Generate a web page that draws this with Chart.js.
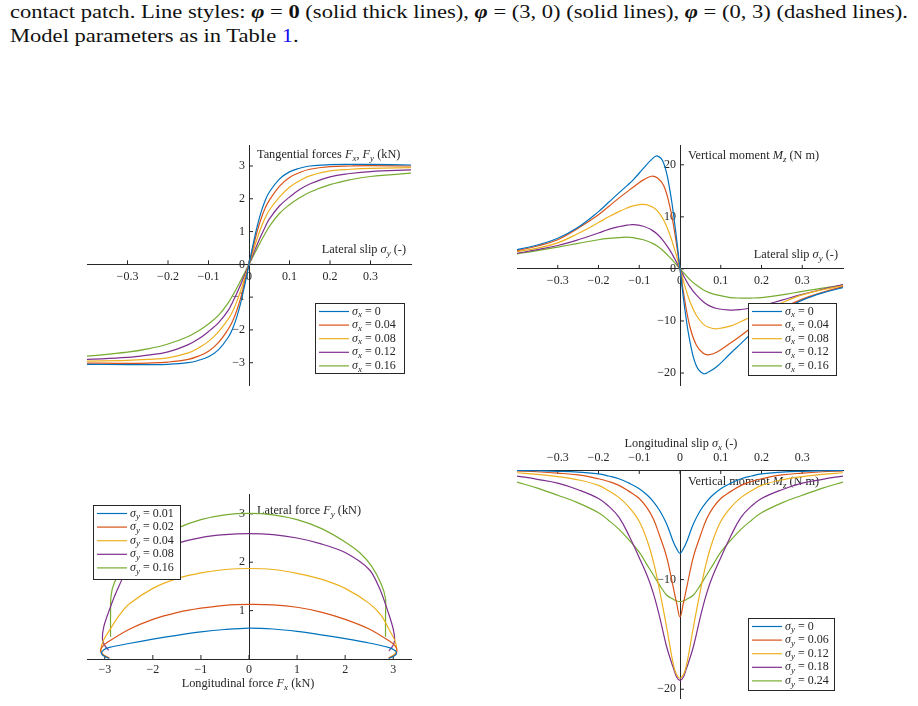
<!DOCTYPE html>
<html>
<head>
<meta charset="utf-8">
<script src="https://cdn.jsdelivr.net/npm/chart.js@4.4.1/dist/chart.umd.min.js"></script>
<style>
  html, body { margin: 0; padding: 0; background: #fff; }
  body { width: 918px; height: 706px; position: relative; overflow: hidden; }
  .cap { position: absolute; left: 10px; font-family: "Liberation Serif", serif; font-size: 18.5px; line-height: 18px;
         color: #111; white-space: nowrap; transform-origin: 0 0; }
  canvas { position: absolute; }
</style>
</head>
<body>
<div class="cap" id="cap1" style="top:3px">contact patch. Line styles: <b><i>φ</i></b> = <b>0</b> (solid thick lines), <b><i>φ</i></b> = (3, 0) (solid lines), <b><i>φ</i></b> = (0, 3) (dashed lines).</div>
<div class="cap" id="cap2" style="top:27px">Model parameters as in Table <span style="color:#1010f0">1</span>.</div>
<canvas id="forces"></canvas>
<canvas id="momentLat"></canvas>
<canvas id="ellipse"></canvas>
<canvas id="momentLon"></canvas>
<script>
// ---- data ----

// top left: tangential force vs lateral slip, one curve per sigma_x
const latSlip = [-0.4, -0.3, -0.25, -0.2, -0.15, -0.125, -0.1, -0.075, -0.05, -0.04, -0.03, -0.02, -0.01, 0,
                 0.01, 0.02, 0.03, 0.04, 0.05, 0.075, 0.1, 0.125, 0.15, 0.2, 0.25, 0.3, 0.4];
const fy_sx000 = [-3.05, -3.06, -3.06, -3.05, -3.0, -2.93, -2.82, -2.6, -2.2, -1.95, -1.6, -1.15, -0.6, 0,
                  0.6, 1.15, 1.6, 1.95, 2.2, 2.6, 2.82, 2.93, 3.0, 3.04, 3.05, 3.05, 3.03];
const fy_sx004 = [-3.01, -3.02, -3.01, -2.98, -2.9, -2.8, -2.65, -2.38, -1.95, -1.72, -1.4, -1.0, -0.5, 0,
                  0.5, 1.0, 1.4, 1.72, 1.95, 2.38, 2.65, 2.8, 2.9, 2.98, 3.0, 3.01, 3.0];
const fy_sx008 = [-2.95, -2.93, -2.9, -2.85, -2.7, -2.55, -2.35, -2.05, -1.65, -1.42, -1.13, -0.78, -0.4, 0,
                  0.4, 0.78, 1.13, 1.42, 1.65, 2.05, 2.35, 2.55, 2.7, 2.85, 2.9, 2.93, 2.95];
const fy_sx012 = [-2.9, -2.84, -2.77, -2.67, -2.45, -2.28, -2.05, -1.78, -1.38, -1.14, -0.88, -0.6, -0.3, 0,
                  0.3, 0.6, 0.88, 1.14, 1.38, 1.78, 2.05, 2.28, 2.45, 2.67, 2.77, 2.83, 2.88];
const fy_sx016 = [-2.8, -2.68, -2.58, -2.43, -2.2, -2.03, -1.82, -1.55, -1.15, -0.94, -0.72, -0.48, -0.24, 0,
                  0.24, 0.48, 0.72, 0.94, 1.15, 1.55, 1.82, 2.03, 2.2, 2.43, 2.58, 2.68, 2.78];
const sxLevels = ['0', '0.04', '0.08', '0.12', '0.16'];

// top right: vertical moment vs lateral slip
const latSlip2 = [-0.4, -0.35, -0.3, -0.25, -0.2, -0.175, -0.15, -0.13, -0.115, -0.09, -0.07, -0.056, -0.04, -0.025, -0.012, 0,
                  0.012, 0.025, 0.04, 0.057, 0.07, 0.09, 0.123, 0.15, 0.175, 0.2, 0.25, 0.3, 0.35, 0.4];
const mzLat_sx000 = [3.7, 4.6, 5.9, 8.0, 11.0, 12.8, 14.6, 16.0, 17.1, 19.3, 21.0, 21.7, 20.3, 15.2, 8.1, 0,
                     -7.8, -14.2, -18.6, -20.1, -19.8, -18.8, -16.3, -14.3, -12.4, -10.6, -8.0, -6.0, -4.6, -3.6];
const mzLat_sx004 = [3.5, 4.4, 5.6, 7.8, 10.4, 12.0, 13.6, 14.8, 15.7, 17.1, 17.8, 17.5, 16.0, 12.0, 6.5, 0,
                     -6.2, -11.3, -14.6, -16.2, -16.5, -16.0, -14.3, -12.8, -11.3, -9.9, -7.6, -5.8, -4.5, -3.4];
const mzLat_sx008 = [3.3, 4.0, 5.0, 6.8, 8.9, 10.0, 11.0, 11.7, 12.1, 12.4, 12.0, 11.2, 9.4, 6.6, 3.4, 0,
                     -3.3, -6.4, -8.9, -10.6, -11.2, -11.5, -11.0, -10.1, -9.2, -8.3, -6.5, -5.0, -4.0, -3.2];
const mzLat_sx012 = [3.0, 3.7, 4.5, 5.6, 6.9, 7.6, 8.1, 8.4, 8.5, 8.2, 7.5, 6.7, 5.3, 3.6, 1.8, 0,
                     -1.8, -3.5, -5.0, -6.3, -7.0, -7.6, -7.9, -7.8, -7.5, -7.1, -6.0, -4.9, -3.9, -3.0];
const mzLat_sx016 = [2.9, 3.5, 4.2, 4.9, 5.6, 5.85, 6.0, 6.1, 6.0, 5.6, 5.0, 4.4, 3.4, 2.2, 1.1, 0,
                     -1.0, -2.1, -3.1, -4.0, -4.5, -5.0, -5.5, -5.6, -5.6, -5.5, -5.0, -4.3, -3.7, -3.1];

// bottom left: force locus Fy vs Fx, one arc per sigma_y
const fx_sy001 = [-2.91, -3.02, -3.07, -3.02, -2.9, -2.5, -2, -1.5, -1, -0.5, 0, 0.5, 1, 1.5, 2, 2.5, 2.9, 3.03, 3.07, 3.02, 2.91];
const fy_sy001 = [0.01, 0.06, 0.12, 0.19, 0.24, 0.32, 0.41, 0.49, 0.56, 0.61, 0.64, 0.62, 0.57, 0.5, 0.42, 0.33, 0.24, 0.18, 0.12, 0.06, 0.01];
const fx_sy002 = [-2.9, -3.03, -3.09, -3.04, -2.92, -2.5, -2, -1.5, -1, -0.5, 0, 0.5, 1, 1.5, 2, 2.5, 2.92, 3.04, 3.08, 3.03, 2.9];
const fy_sy002 = [0.02, 0.08, 0.17, 0.27, 0.36, 0.61, 0.82, 0.96, 1.05, 1.11, 1.13, 1.12, 1.07, 0.97, 0.82, 0.62, 0.37, 0.27, 0.17, 0.08, 0.02];
const fx_sy004 = [-2.93, -3.04, -3.08, -3.03, -2.91, -2.7, -2.5, -2, -1.5, -1, -0.5, 0, 0.5, 1, 1.5, 2, 2.5, 2.75, 2.93, 3.04, 3.07, 3.03, 2.92];
const fy_sy004 = [0.03, 0.1, 0.2, 0.38, 0.58, 0.9, 1.13, 1.46, 1.66, 1.78, 1.85, 1.87, 1.85, 1.77, 1.65, 1.46, 1.15, 0.9, 0.58, 0.37, 0.2, 0.1, 0.03];
const fx_sy008 = [-2.92, -3.0, -3.05, -3.02, -2.91, -2.74, -2.53, -2, -1.5, -1, -0.5, 0, 0.5, 1, 1.5, 2, 2.5, 2.72, 2.9, 3.0, 3.03, 2.99, 2.91];
const fy_sy008 = [0.18, 0.28, 0.42, 0.67, 1.0, 1.43, 1.82, 2.2, 2.39, 2.51, 2.57, 2.59, 2.57, 2.5, 2.38, 2.2, 1.85, 1.45, 0.95, 0.62, 0.4, 0.27, 0.17];
const fx_sy016 = [-2.88, -2.88, -2.87, -2.8, -2.6, -2.3, -2, -1.5, -1, -0.5, 0, 0.5, 1, 1.5, 2, 2.3, 2.55, 2.75, 2.84, 2.84, 2.84];
const fy_sy016 = [0.46, 0.9, 1.3, 1.58, 1.92, 2.22, 2.42, 2.7, 2.88, 2.98, 3.01, 2.98, 2.88, 2.7, 2.42, 2.2, 1.92, 1.55, 1.25, 0.9, 0.46];
const syLocusLevels = ['0.01', '0.02', '0.04', '0.08', '0.16'];

// bottom right: vertical moment vs longitudinal slip
const lonSlip = [-0.4, -0.35, -0.3, -0.25, -0.2, -0.175, -0.15, -0.125, -0.1, -0.08, -0.065, -0.05, -0.033, -0.016, -0.008, 0,
                 0.008, 0.016, 0.033, 0.05, 0.065, 0.08, 0.1, 0.125, 0.15, 0.175, 0.2, 0.25, 0.3, 0.35, 0.4];
const mzLon_sy000 = [-0.03, -0.07, -0.12, -0.2, -0.35, -0.55, -0.8, -1.2, -1.7, -2.3, -2.9, -3.7, -4.9, -6.6, -7.2, -7.6,
                     -7.2, -6.6, -4.9, -3.7, -2.9, -2.3, -1.7, -1.2, -0.8, -0.55, -0.35, -0.2, -0.12, -0.07, -0.03];
const mzLon_sy006 = [-0.08, -0.16, -0.28, -0.45, -0.8, -1.05, -1.4, -1.95, -2.6, -3.5, -4.5, -6.0, -7.9, -10.8, -12.2, -13.4,
                     -12.2, -10.8, -7.9, -6.0, -4.5, -3.5, -2.6, -1.95, -1.4, -1.05, -0.8, -0.45, -0.28, -0.16, -0.08];
const mzLon_sy012 = [-0.25, -0.4, -0.6, -0.9, -1.4, -1.9, -2.5, -3.4, -4.7, -6.5, -8.4, -11.0, -14.3, -17.8, -18.7, -19.0,
                     -18.7, -17.8, -14.3, -11.0, -8.4, -6.5, -4.7, -3.4, -2.5, -1.9, -1.4, -0.9, -0.6, -0.4, -0.25];
const mzLon_sy018 = [-0.55, -0.85, -1.2, -1.8, -2.6, -3.3, -4.3, -6.0, -8.0, -9.7, -11.3, -13.4, -16.1, -18.1, -18.9, -19.2,
                     -18.9, -18.1, -16.1, -13.4, -11.3, -9.7, -8.0, -6.0, -4.3, -3.3, -2.6, -1.8, -1.2, -0.85, -0.55];
const mzLon_sy024 = [-1.1, -1.65, -2.3, -3.0, -3.9, -4.6, -5.4, -6.4, -7.5, -8.7, -9.6, -10.5, -11.4, -11.8, -11.95, -12.0,
                     -11.95, -11.8, -11.4, -10.5, -9.6, -8.7, -7.5, -6.4, -5.4, -4.6, -3.9, -3.0, -2.3, -1.65, -1.1];
const syLevels = ['0', '0.06', '0.12', '0.18', '0.24'];

// tick labels
const slipTicks = [-0.3, -0.2, -0.1, 0, 0.1, 0.2, 0.3];
const forceTicks = [-3, -2, -1, 0, 1, 2, 3];
const momentTicks = [-20, -10, 0, 10, 20];
const locusXTicks = [-3, -2, -1, 0, 1, 2, 3];
const locusYTicks = [1, 2, 3];
const momentLonTicks = [-20, -10];

// ---- drawing helpers ----
const COLORS = ['#0072BD', '#D95319', '#EDB120', '#7E2F8E', '#77AC30'];
const INK = '#262626';
const SERIF = '"Liberation Serif", "DejaVu Serif", serif';
const decoById = {};

function fontFor(kind, size) {
    if (kind === 'i') return 'italic ' + size + 'px ' + SERIF;
    if (kind === 's') return 'italic ' + Math.round(size * 0.72) + 'px ' + SERIF;
    return size + 'px ' + SERIF;
}

// parts: [text, kind]; kind n = roman, i = italic, s = italic subscript
function drawRich(ctx, parts, x, y, size, align) {
    let w = 0;
    parts.forEach(p => { ctx.font = fontFor(p[1], size); w += ctx.measureText(p[0]).width; });
    let cx = align === 'center' ? x - w / 2 : align === 'right' ? x - w : x;
    ctx.textAlign = 'left';
    ctx.textBaseline = 'middle';
    parts.forEach(p => {
        ctx.font = fontFor(p[1], size);
        ctx.fillText(p[0], cx, y + (p[1] === 's' ? size * 0.28 : 0));
        cx += ctx.measureText(p[0]).width;
    });
}

function fmt(v) {
    return (v < 0 ? '\u2212' : '') + String(Math.abs(v));
}

const decoPlugin = {
    id: 'deco',
    beforeDraw(chart) {
        const d = decoById[chart.canvas.id];
        if (!d) return;
        const ctx = chart.ctx;
        const xs = chart.scales.x, ys = chart.scales.y;
        const x0 = xs.getPixelForValue(0), y0 = ys.getPixelForValue(0);
        ctx.save();
        ctx.fillStyle = INK;
        ctx.strokeStyle = INK;
        ctx.lineWidth = 1;
        ctx.font = '12px ' + SERIF;
        ctx.textBaseline = 'middle';
        xs.ticks.forEach(t => {
            const px = xs.getPixelForValue(t.value);
            ctx.textAlign = 'center';
            ctx.fillText(fmt(t.value), px, y0 + d.xLabelDy);
            ctx.beginPath(); ctx.moveTo(px, y0); ctx.lineTo(px, y0 + d.xTickLen); ctx.stroke();
        });
        ys.ticks.forEach(t => {
            const py = ys.getPixelForValue(t.value);
            ctx.textAlign = 'right';
            ctx.fillText(fmt(t.value), x0 - 4, py);
            ctx.beginPath(); ctx.moveTo(x0, py); ctx.lineTo(x0 + 4, py); ctx.stroke();
        });
        d.titles.forEach(tt => {
            drawRich(ctx, tt.parts, tt.x - d.frame.x, tt.y - d.frame.y, 12.3, tt.align);
        });
        ctx.restore();
    },
    afterDatasetsDraw(chart) {
        const d = decoById[chart.canvas.id];
        if (!d) return;
        const lg = d.legend, ctx = chart.ctx;
        const x = lg.x - d.frame.x, y = lg.y - d.frame.y;
        ctx.save();
        ctx.fillStyle = '#fff';
        ctx.fillRect(x, y, lg.w, lg.h);
        ctx.strokeStyle = INK;
        ctx.lineWidth = 1;
        ctx.strokeRect(x + 0.5, y + 0.5, lg.w, lg.h);
        chart.data.datasets.forEach((ds, i) => {
            const ry = y + 8.5 + i * 13.6;
            ctx.strokeStyle = ds.borderColor;
            ctx.lineWidth = 1.2;
            ctx.beginPath(); ctx.moveTo(x + 4, ry); ctx.lineTo(x + 34, ry); ctx.stroke();
            ctx.fillStyle = INK;
            drawRich(ctx, [['σ', 'i'], [lg.sub, 's'], [' = ' + ds.label, 'n']], x + 37, ry, 12, 'left');
        });
        ctx.restore();
    }
};
Chart.register(decoPlugin);

function buildChart(id, frame, plot, xLim, yLim, series, deco, tension) {
    const canvas = document.getElementById(id);
    canvas.width = frame.w;
    canvas.height = frame.h;
    canvas.style.left = frame.x + 'px';
    canvas.style.top = frame.y + 'px';
    decoById[id] = Object.assign({ frame: frame }, deco);

    const axisBase = {
        type: 'linear',
        grid: { display: false },
        ticks: { display: false },
        border: { display: true, color: INK, width: 1 }
    };

    return new Chart(canvas, {
        type: 'line',
        data: {
            datasets: series.map((s, i) => ({
                label: s.label,
                data: s.xs.map((xv, k) => ({ x: xv, y: s.ys[k] })),
                borderColor: COLORS[i],
                borderWidth: 1.2,
                pointRadius: 0,
                fill: false,
                tension: tension
            }))
        },
        options: {
            responsive: false,
            animation: false,
            events: [],
            layout: {
                padding: {
                    left: plot.l - frame.x,
                    top: plot.t - frame.y,
                    right: frame.x + frame.w - plot.r,
                    bottom: frame.y + frame.h - plot.b
                }
            },
            plugins: {
                legend: { display: false },
                tooltip: { enabled: false }
            },
            scales: {
                x: Object.assign({}, axisBase, {
                    min: xLim[0], max: xLim[1],
                    position: { y: 0 },
                    afterBuildTicks: function(scale) {
                        scale.ticks = deco.xTicks.map(v => ({ value: v }));
                    }
                }),
                y: Object.assign({}, axisBase, {
                    min: yLim[0], max: yLim[1],
                    position: { x: 0 },
                    afterBuildTicks: function(scale) {
                        scale.ticks = deco.yTicks.map(v => ({ value: v }));
                    }
                })
            }
        }
    });
}

const sigY = [['Lateral slip ', 'n'], ['σ', 'i'], ['y', 's'], [' (-)', 'n']];
const mzTitle = [['Vertical moment ', 'n'], ['M', 'i'], ['z', 's'], [' (N m)', 'n']];

// top left
buildChart('forces', { x: 40, y: 110, w: 420, h: 300 }, { l: 87, r: 411, t: 145, b: 385 },
    [-0.4, 0.4], [-3.68, 3.64],
    [fy_sx000, fy_sx004, fy_sx008, fy_sx012, fy_sx016].map((ys, i) => ({ label: sxLevels[i], xs: latSlip, ys: ys })),
    {
        xTicks: slipTicks, yTicks: forceTicks, xTickLen: -4, xLabelDy: 12,
        titles: [
            { parts: [['Tangential forces ', 'n'], ['F', 'i'], ['x', 's'], [', ', 'n'], ['F', 'i'], ['y', 's'], [' (kN)', 'n']], x: 257, y: 155, align: 'left' },
            { parts: sigY, x: 406, y: 250, align: 'right' }
        ],
        legend: { x: 315, y: 303, w: 89, h: 70, sub: 'x' }
    }, 0.4);

// top right
buildChart('momentLat', { x: 470, y: 110, w: 420, h: 300 }, { l: 517, r: 843, t: 145, b: 385 },
    [-0.4, 0.4], [-22.3, 23.8],
    [mzLat_sx000, mzLat_sx004, mzLat_sx008, mzLat_sx012, mzLat_sx016].map((ys, i) => ({ label: sxLevels[i], xs: latSlip2, ys: ys })),
    {
        xTicks: slipTicks, yTicks: momentTicks, xTickLen: -4, xLabelDy: 12,
        titles: [
            { parts: mzTitle, x: 688, y: 156, align: 'left' },
            { parts: sigY, x: 838, y: 255, align: 'right' }
        ],
        legend: { x: 748, y: 303, w: 88, h: 72, sub: 'x' }
    }, 0.4);

// bottom left
buildChart('ellipse', { x: 40, y: 420, w: 420, h: 286 }, { l: 87, r: 411, t: 494, b: 659 },
    [-3.37, 3.37], [0, 3.41],
    [[fx_sy001, fy_sy001], [fx_sy002, fy_sy002], [fx_sy004, fy_sy004], [fx_sy008, fy_sy008], [fx_sy016, fy_sy016]]
        .map((p, i) => ({ label: syLocusLevels[i], xs: p[0], ys: p[1] })),
    {
        xTicks: locusXTicks, yTicks: locusYTicks, xTickLen: -4, xLabelDy: 11,
        titles: [
            { parts: [['Lateral force ', 'n'], ['F', 'i'], ['y', 's'], [' (kN)', 'n']], x: 257, y: 511, align: 'left' },
            { parts: [['Longitudinal force ', 'n'], ['F', 'i'], ['x', 's'], [' (kN)', 'n']], x: 248, y: 684, align: 'center' }
        ],
        legend: { x: 93, y: 505, w: 87, h: 74, sub: 'y' }
    }, 0.3);

// bottom right
buildChart('momentLon', { x: 470, y: 420, w: 420, h: 286 }, { l: 517, r: 843, t: 470, b: 698 },
    [-0.4, 0.4], [-20.8, 0],
    [mzLon_sy000, mzLon_sy006, mzLon_sy012, mzLon_sy018, mzLon_sy024].map((ys, i) => ({ label: syLevels[i], xs: lonSlip, ys: ys })),
    {
        xTicks: slipTicks, yTicks: momentLonTicks, xTickLen: 4, xLabelDy: -12,
        titles: [
            { parts: [['Longitudinal slip ', 'n'], ['σ', 'i'], ['x', 's'], [' (-)', 'n']], x: 681, y: 444, align: 'center' },
            { parts: mzTitle, x: 688, y: 482, align: 'left' }
        ],
        legend: { x: 748, y: 618, w: 86, h: 72, sub: 'y' }
    }, 0.4);

// stretch the caption lines to the printed width
const cap1 = document.getElementById('cap1');
const cap2 = document.getElementById('cap2');
const stretch = 898 / cap1.getBoundingClientRect().width;
cap1.style.transform = 'scaleX(' + stretch + ')';
cap2.style.transform = 'scaleX(' + stretch + ')';
</script>
</body>
</html>
